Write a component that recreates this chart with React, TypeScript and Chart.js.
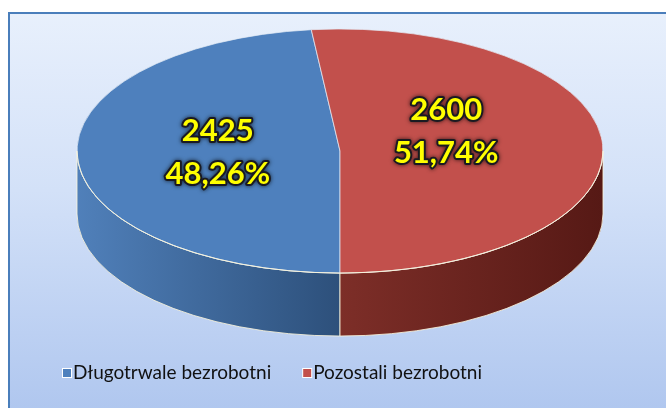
import React, { useEffect, useRef } from 'react';
import { Chart, registerables } from 'chart.js';
Chart.register(...registerables);

const categories = ['Długotrwale bezrobotni', 'Pozostali bezrobotni'];
const values = [2425, 2600];
const topColors = ['#4e80bd', '#c2504c'];
const sideLeft = ['#5080ba', '#a5443d'];
const sideMid = ['#2d507b', '#7d2e28'];
const sideRight = ['#213f62', '#561915'];

const PIE_CX = 340;
const PIE_CY = 151;
const RADIUS = 263;
const TILT = 0.464;
const DEPTH = 63;

const fmtPct = (v: number, total: number) => (v / total * 100).toFixed(2).replace('.', ',') + '%';

const pie3d = {
  id: 'pie3d',
  beforeDraw(chart: any) {
    const ctx = chart.ctx as CanvasRenderingContext2D;
    const W = chart.width, H = chart.height;
    ctx.save();
    const g = ctx.createLinearGradient(0, 12, 0, H);
    g.addColorStop(0, '#e8f0fc');
    g.addColorStop(0.45, '#d3e1f8');
    g.addColorStop(1, '#b0c7ef');
    ctx.fillStyle = g;
    ctx.fillRect(9, 13, W - 9, H - 13);
    ctx.strokeStyle = '#4a7ebb';
    ctx.lineWidth = 2;
    ctx.beginPath();
    ctx.moveTo(9, H + 2);
    ctx.lineTo(9, 13);
    ctx.lineTo(W + 2, 13);
    ctx.stroke();
    ctx.restore();
  },
  beforeDatasetsDraw(chart: any) {
    const ctx = chart.ctx as CanvasRenderingContext2D;
    const meta = chart.getDatasetMeta(0);
    const arcs = meta.data;
    if (!arcs.length) return;
    const R = arcs[0].outerRadius;
    const ry = R * TILT;
    const TWO = Math.PI * 2;
    arcs.forEach((arc: any, i: number) => {
      const s = arc.startAngle, e = arc.endAngle;
      for (let n = -1; n <= 2; n++) {
        const a = Math.max(s, TWO * n);
        const b = Math.min(e, Math.PI + TWO * n);
        if (b <= a) continue;
        const g = ctx.createLinearGradient(PIE_CX - R, 0, PIE_CX + R, 0);
        g.addColorStop(0, sideLeft[i]);
        g.addColorStop(0.5, sideMid[i]);
        g.addColorStop(1, sideRight[i]);
        ctx.save();
        ctx.beginPath();
        ctx.ellipse(PIE_CX, PIE_CY, R, ry, 0, a, b, false);
        ctx.ellipse(PIE_CX, PIE_CY + DEPTH, R, ry, 0, b, a, true);
        ctx.closePath();
        ctx.fillStyle = g;
        ctx.fill();
        ctx.strokeStyle = 'rgba(250,245,220,0.85)';
        ctx.lineWidth = 1;
        ctx.stroke();
        ctx.restore();
      }
    });
    ctx.save();
    ctx.translate(PIE_CX, PIE_CY);
    ctx.scale(1, TILT);
    ctx.translate(-arcs[0].x, -arcs[0].y);
  },
  afterDatasetsDraw(chart: any) {
    const ctx = chart.ctx as CanvasRenderingContext2D;
    const meta = chart.getDatasetMeta(0);
    const arcs = meta.data;
    if (!arcs.length) return;
    ctx.restore();
    const R = arcs[0].outerRadius;
    const ry = R * TILT;
    ctx.save();
    ctx.strokeStyle = 'rgba(250,245,220,0.9)';
    ctx.lineWidth = 1;
    ctx.beginPath();
    ctx.ellipse(PIE_CX, PIE_CY, R, ry, 0, 0, Math.PI, false);
    ctx.stroke();
    ctx.restore();

    const data = chart.data.datasets[0].data as number[];
    const total = data.reduce((p, c) => p + c, 0);
    const nudges = [[-4, -2], [-12, -16]];
    arcs.forEach((arc: any, i: number) => {
      const mid = (arc.startAngle + arc.endAngle) / 2;
      const f = 0.45;
      const x = PIE_CX + R * f * Math.cos(mid) + nudges[i][0];
      const y = PIE_CY + ry * f * Math.sin(mid) + nudges[i][1];
      const lines = [String(data[i]), fmtPct(data[i], total)];
      ctx.save();
      ctx.font = 'bold 31px Lato';
      ctx.textAlign = 'center';
      ctx.textBaseline = 'middle';
      ctx.lineJoin = 'round';
      lines.forEach((t, k) => {
        const ly = y + (k - 0.5) * 43;
        ctx.shadowColor = 'rgba(0,0,0,0.7)';
        ctx.shadowBlur = 4;
        ctx.strokeStyle = '#1a1a22';
        ctx.lineWidth = 4;
        ctx.strokeText(t, x, ly);
        ctx.shadowBlur = 0;
        ctx.shadowColor = 'transparent';
        ctx.fillStyle = '#ffff00';
        ctx.fillText(t, x, ly);
      });
      ctx.restore();
    });
  },
  afterDraw(chart: any) {
    const ctx = chart.ctx as CanvasRenderingContext2D;
    const labels = chart.data.labels as string[];
    const colors = chart.data.datasets[0].backgroundColor as string[];
    ctx.save();
    ctx.font = '19px Lato';
    ctx.textBaseline = 'middle';
    ctx.textAlign = 'left';
    let x = 63;
    const y = 373;
    labels.forEach((l, i) => {
      ctx.fillStyle = '#ffffff';
      ctx.fillRect(x - 1, y - 5, 10, 10);
      ctx.fillStyle = colors[i];
      ctx.fillRect(x, y - 4, 8, 8);
      x += 10;
      ctx.fillStyle = '#111111';
      ctx.fillText(l, x, y);
      x += ctx.measureText(l).width + 32;
    });
    ctx.restore();
  },
};

export default function App() {
  const ref = useRef<HTMLCanvasElement | null>(null);
  useEffect(() => {
    let chart: Chart | null = null;
    let cancelled = false;
    const make = () => {
      if (cancelled || !ref.current) return;
      chart = new Chart(ref.current, {
        type: 'pie',
        data: {
          labels: categories,
          datasets: [{
            data: values,
            backgroundColor: topColors,
            borderColor: '#e4ecf6',
            borderWidth: 1,
            clip: false as any,
          }],
        },
        options: {
          responsive: false,
          animation: false,
          devicePixelRatio: 1,
          radius: RADIUS,
          rotation: 180,
          events: [],
          plugins: { legend: { display: false }, tooltip: { enabled: false } },
        } as any,
        plugins: [pie3d],
      });
    };
    const fonts = (document as any).fonts;
    if (fonts && fonts.load) {
      Promise.all([fonts.load('bold 31px Lato'), fonts.load('19px Lato')]).then(make, make);
    } else make();
    return () => {
      cancelled = true;
      if (chart) chart.destroy();
    };
  }, []);
  return (
    <div style={{ position: 'fixed', left: 0, top: 0, width: 666, height: 408, background: '#ffffff' }}>
      <canvas ref={ref} width={666} height={408} style={{ display: 'block' }} />
    </div>
  );
}
